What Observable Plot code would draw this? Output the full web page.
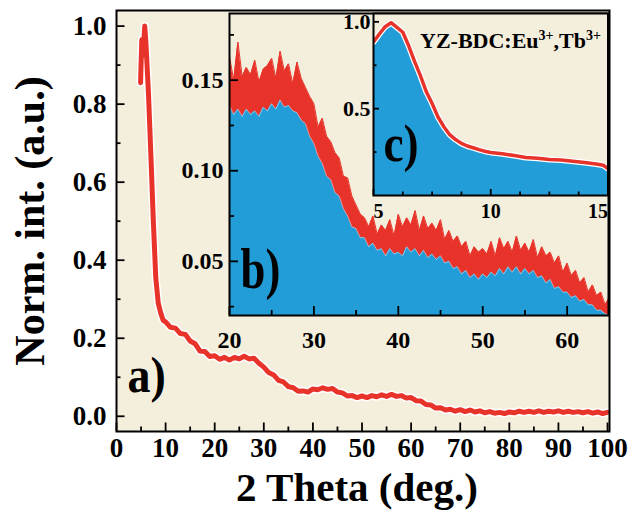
<!DOCTYPE html>
<html><head><meta charset="utf-8">
<script src="https://cdn.jsdelivr.net/npm/d3@7"></script>
<script src="https://cdn.jsdelivr.net/npm/@observablehq/plot@0.6"></script>
<style>
body{margin:0;background:#fff;}
#wrap{position:relative;width:636px;height:523px;overflow:hidden;background:#fff;}
#wrap svg{position:absolute;left:0;top:0;}
</style></head><body><div id="wrap"></div>
<script>
// ---- data: main panel a) ----
const aTheta = [4.9,5.15,5.4,5.75,6,6.5,7,7.5,8,8.5,9,9.5,10,11,12,13,14,15,16,17,18,19,20,21,22,23,24,25,26,27,28,29,30,31,32,33,34,35,36,37,38,39,40,41,42,43,44,45,46,47,48,49,50,51,52,53,54,55,56,57,58,59,60,61,62,63,64,65,66,67,68,69,70,71,72,73,74,75,76,77,78,79,80,81,82,83,84,85,86,87,88,89,90,91,92,93,94,95,96,97,98,99,100];
const aInt = [0.855,0.965,0.925,1.0,0.955,0.83,0.67,0.5,0.355,0.29,0.265,0.246,0.242,
0.228,0.226,0.212,0.210,0.193,0.186,0.167,0.166,0.153,0.155,
0.146,0.151,0.144,0.151,0.147,0.154,0.147,0.149,0.136,0.126,
0.112,0.106,0.092,0.088,0.076,0.073,0.064,0.065,0.062,0.070,
0.068,0.073,0.069,0.071,0.062,0.060,0.052,0.053,0.048,0.052,
0.048,0.053,0.050,0.055,0.051,0.056,0.051,0.053,0.047,0.048,
0.040,0.039,0.030,0.029,0.021,0.022,0.016,0.018,0.013,0.017,
0.012,0.016,0.011,0.014,0.009,0.012,0.008,0.010,0.007,0.011,
0.009,0.013,0.010,0.013,0.010,0.014,0.010,0.013,0.011,0.014,
0.010,0.013,0.010,0.012,0.009,0.012,0.008,0.011,0.007,0.010];
// ---- data: inset b) (noise tips and lower envelope, 0.5 deg steps) ----
const bTheta = [20,20.5,21,21.5,22,22.5,23,23.5,24,24.5,25,25.5,26,26.5,27,27.5,28,28.5,29,29.5,30,30.5,31,31.5,32,32.5,33,33.5,34,34.5,35,35.5,36,36.5,37,37.5,38,38.5,39,39.5,40,40.5,41,41.5,42,42.5,43,43.5,44,44.5,45,45.5,46,46.5,47,47.5,48,48.5,49,49.5,50,50.5,51,51.5,52,52.5,53,53.5,54,54.5,55,55.5,56,56.5,57,57.5,58,58.5,59,59.5,60,60.5,61,61.5,62,62.5,63,63.5,64,64.5,65];
const bHi = [0.163,0.150,0.171,0.152,0.157,0.153,0.161,0.149,0.156,0.158,
0.162,0.151,0.166,0.155,0.159,0.148,0.160,0.151,0.146,0.141,
0.137,0.124,0.129,0.119,0.116,0.110,0.107,0.097,0.096,0.086,
0.081,0.076,0.074,0.069,0.075,0.065,0.070,0.067,0.073,0.064,
0.076,0.069,0.074,0.070,0.078,0.067,0.075,0.068,0.071,0.067,
0.073,0.062,0.067,0.061,0.064,0.058,0.061,0.053,0.058,0.055,
0.057,0.054,0.061,0.053,0.063,0.057,0.061,0.055,0.064,0.056,
0.060,0.055,0.062,0.052,0.058,0.053,0.055,0.049,0.053,0.044,
0.049,0.042,0.045,0.038,0.041,0.033,0.037,0.031,0.033,0.026,0.030];
const bLo = [0.136,0.131,0.134,0.130,0.134,0.131,0.133,0.130,0.135,0.133,
0.137,0.134,0.139,0.135,0.136,0.133,0.132,0.128,0.126,0.119,
0.115,0.108,0.104,0.097,0.095,0.088,0.086,0.079,0.075,0.069,
0.068,0.063,0.063,0.058,0.060,0.056,0.057,0.053,0.057,0.054,
0.055,0.053,0.058,0.055,0.057,0.053,0.056,0.052,0.054,0.051,
0.053,0.049,0.050,0.046,0.047,0.043,0.045,0.041,0.043,0.040,
0.043,0.041,0.044,0.042,0.046,0.043,0.047,0.044,0.047,0.043,
0.046,0.043,0.045,0.041,0.042,0.038,0.040,0.035,0.036,0.033,
0.033,0.030,0.031,0.028,0.029,0.026,0.026,0.023,0.023,0.021,0.020];
// ---- data: inset c) ----
const cTheta = [5,5.25,5.5,5.75,6,6.25,6.5,6.75,7,7.25,7.5,7.75,8,8.25,8.5,8.75,9,9.25,9.5,9.75,10,10.5,11,11.5,12,12.5,13,13.5,14,14.5,14.8,15];
const cInt = [0.884,0.930,0.972,0.995,0.968,0.940,0.862,0.772,0.690,0.598,0.530,0.452,0.396,0.350,0.322,0.300,0.285,0.275,0.264,0.255,0.248,0.240,0.230,0.219,0.214,0.207,0.204,0.197,0.190,0.181,0.174,0.155];
// ---- ticks ----
const aXMajor = [0,10,20,30,40,50,60,70,80,90,100];
const aXMinor = [5,15,25,35,45,55,65,75,85,95];
const aYMajor = [0,0.2,0.4,0.6,0.8,1.0];
const aYMinor = [0.1,0.3,0.5,0.7,0.9];
const bXMajor = [20,30,40,50,60];
const bXMinor = [25,35,45,55];
const bYMajor = [0.05,0.10,0.15];
const bYMinor = [0.025,0.075,0.125,0.175];
const cXMajor = [5,10,15];
const cXMinor = [6.25,7.5,8.75,11.25,12.5,13.75];
const cYMajor = [0.5,1.0];
const cYMinor = [0.25,0.75];
const titleX = "2 Theta (deg.)";
const titleY = "Norm. int. (a.u.)";
const sample = "YZ-BDC:Eu3+,Tb3+";

const RED = "#E8332B", BLUE = "#229DD8", BEIGE = "#F4EEDC";
const FONT = '"Liberation Serif","Times New Roman",Times,serif';
const style = {fontFamily: FONT, fontWeight: "bold", background: "transparent", overflow: "visible"};

const rows = (xs, ys) => xs.map((t, i) => ({t, v: ys[i]}));
const aData = rows(aTheta, aInt), bHiData = rows(bTheta, bHi), bLoData = rows(bTheta, bLo), cData = rows(cTheta, cInt);

// inward ticks: full-frame tick marks trimmed by insets (pixel lengths)
function ticks({xMaj, xMin, yMaj, yMin, maj, min, W, H, sw = 1.8}) {
  return [
    Plot.tickX(xMaj, {x: d => d, insetTop: H - maj, stroke: "#000", strokeWidth: sw}),
    Plot.tickX(xMin, {x: d => d, insetTop: H - min, stroke: "#000", strokeWidth: sw}),
    Plot.tickY(yMaj, {y: d => d, insetRight: W - maj, stroke: "#000", strokeWidth: sw}),
    Plot.tickY(yMin, {y: d => d, insetRight: W - min, stroke: "#000", strokeWidth: sw})
  ];
}
const txt = (s, o) => Plot.text([s], {text: d => d, fontWeight: "bold", ...o});

const wrap = document.getElementById("wrap");

// main
const a = Plot.plot({
  width: 636, height: 523, marginLeft: 116, marginRight: 27, marginTop: 10, marginBottom: 92,
  style,
  x: {domain: [0, 100.4]}, y: {domain: [-0.039, 1.040]},
  marks: [
    Plot.frame({fill: BEIGE}),
    Plot.line(aData, {x: "t", y: "v", stroke: "#fff", strokeWidth: 8, strokeLinejoin: "round"}),
    Plot.line(aData, {x: "t", y: "v", stroke: RED, strokeWidth: 5, strokeLinejoin: "round"}),
    ...ticks({xMaj: aXMajor, xMin: aXMinor, yMaj: aYMajor, yMin: aYMinor, maj: 8.5, min: 4.5, W: 493, H: 421}),
    Plot.axisX({ticks: aXMajor, tickSize: 0, tickPadding: 6, fontSize: 27, fontWeight: "bold", label: null, tickFormat: d3.format("d")}),
    Plot.axisY({ticks: aYMajor, tickSize: 0, tickPadding: 10, fontSize: 27, fontWeight: "bold", label: null, tickFormat: d3.format(".1f")}),
    txt("a)", {frameAnchor: "bottom-left", textAnchor: "start", dx: 11, dy: -40, fontSize: 50}),
    txt(titleX, {frameAnchor: "bottom", textAnchor: "middle", dx: -6, dy: 69, fontSize: 41}),
    txt(titleY, {frameAnchor: "left", textAnchor: "middle", rotate: -90, dx: -86, fontSize: 42}),
    Plot.frame({stroke: "black", strokeWidth: 2})
  ]
});
wrap.appendChild(a);

// inset b
const b = Plot.plot({
  width: 636, height: 523, marginLeft: 229, marginRight: 28, marginTop: 13, marginBottom: 208,
  style,
  x: {domain: [20, 64.9]}, y: {domain: [0.0201, 0.1868]},
  marks: [
    Plot.frame({fill: BEIGE}),
    Plot.areaY(bHiData, {x: "t", y: "v", fill: RED, clip: true}),
    Plot.line(bHiData, {x: "t", y: "v", stroke: RED, strokeWidth: 1, clip: true}),
    Plot.areaY(bLoData, {x: "t", y: "v", fill: BLUE, clip: true}),
    Plot.line(bLoData, {x: "t", y: "v", stroke: "#fff", strokeOpacity: 0.45, strokeWidth: 1, clip: true}),
    ...ticks({xMaj: bXMajor, xMin: bXMinor, yMaj: bYMajor, yMin: bYMinor, maj: 9, min: 5, W: 379, H: 302}),
    Plot.axisX({ticks: bXMajor, tickSize: 0, tickPadding: 15, fontSize: 24, fontWeight: "bold", label: null, tickFormat: d3.format("d")}),
    Plot.axisY({ticks: bYMajor, tickSize: 0, tickPadding: 6, fontSize: 24, fontWeight: "bold", label: null, tickFormat: d3.format(".2f")}),
    txt("b)", {frameAnchor: "bottom-left", textAnchor: "start", dx: 11, dy: -28, fontSize: 56}),
    Plot.frame({stroke: "black", strokeWidth: 2})
  ]
});
wrap.appendChild(b);

// inset c
const c = Plot.plot({
  width: 636, height: 523, marginLeft: 373, marginRight: 28.5, marginTop: 13, marginBottom: 328,
  style,
  x: {domain: [5, 15]}, y: {domain: [0, 1.048]},
  marks: [
    Plot.frame({fill: BEIGE}),
    Plot.areaY(cData, {x: "t", y: "v", fill: BLUE, clip: true}),
    Plot.line(cData, {x: "t", y: "v", stroke: "#fff", strokeWidth: 6, clip: true}),
    Plot.line(cData, {x: "t", y: "v", stroke: RED, strokeWidth: 3.5, clip: true}),
    ...ticks({xMaj: cXMajor, xMin: cXMinor, yMaj: cYMajor, yMin: cYMinor, maj: 6, min: 3.5, W: 234.5, H: 182}),
    Plot.axisX({ticks: cXMajor.slice(0, 1), tickSize: 0, tickPadding: 8, fontSize: 20, fontWeight: "bold", label: null, textAnchor: "start", tickFormat: d3.format("d")}),
    Plot.axisX({ticks: cXMajor.slice(1, 2), tickSize: 0, tickPadding: 8, fontSize: 20, fontWeight: "bold", label: null, tickFormat: d3.format("d")}),
    Plot.axisX({ticks: cXMajor.slice(2), tickSize: 0, tickPadding: 8, fontSize: 20, fontWeight: "bold", label: null, textAnchor: "end", tickFormat: d3.format("d")}),
    Plot.axisY({ticks: cYMajor, tickSize: 0, tickPadding: 3, fontSize: 22, fontWeight: "bold", label: null, tickFormat: d3.format(".1f")}),
    txt("c)", {frameAnchor: "bottom-left", textAnchor: "start", dx: 10, dy: -35, fontSize: 52}),
    txt(sample, {frameAnchor: "top-right", textAnchor: "end", dx: -7, dy: 19, fontSize: 22}),
    Plot.frame({stroke: "black", strokeWidth: 2})
  ]
});
wrap.appendChild(c);

// squeeze panel letters to match the reference proportions; superscripts in sample label
const squeeze = {"a)": 0.92, "b)": 0.80, "c)": 0.87};
document.querySelectorAll("#wrap svg text").forEach(t => {
  const s = t.textContent;
  if (squeeze[s]) {
    const w = t.getComputedTextLength();
    t.setAttribute("textLength", (w * squeeze[s]).toFixed(1));
    t.setAttribute("lengthAdjust", "spacingAndGlyphs");
  } else if (s === sample) {
    t.textContent = "";
    const parts = [["YZ-BDC:Eu", 0, null], ["3+", -8, 14], [",Tb", 8, null], ["3+", -8, 14]];
    for (const [str, dy, fs] of parts) {
      const ts = document.createElementNS("http://www.w3.org/2000/svg", "tspan");
      ts.textContent = str;
      if (dy) ts.setAttribute("dy", dy);
      if (fs) ts.setAttribute("font-size", fs);
      t.appendChild(ts);
    }
  }
});
</script></body></html>
